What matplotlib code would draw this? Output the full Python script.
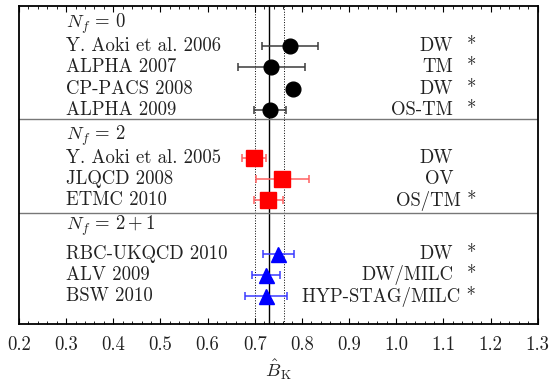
import matplotlib
matplotlib.use('Agg')
import matplotlib.pyplot as plt

# данные
headers = [r'$N_f\,=\,0$', r'$N_f\,=\,2$', r'$N_f\,=\,2+1$']

names_0 = ['Y. Aoki et al. 2006', 'ALPHA 2007', 'CP-PACS 2008', 'ALPHA 2009']
vals_0 = [0.775, 0.735, 0.782, 0.733]
errs_0 = [0.060, 0.071, 0.005, 0.034]
acts_0 = ['DW', 'TM', 'DW', 'OS-TM']
stars_0 = [True, True, True, True]

names_2 = ['Y. Aoki et al. 2005', 'JLQCD 2008', 'ETMC 2010']
vals_2 = [0.698, 0.758, 0.729]
errs_2 = [0.025, 0.056, 0.030]
acts_2 = ['DW', 'OV', 'OS/TM']
stars_2 = [False, False, True]

names_21 = ['RBC-UKQCD 2010', 'ALV 2009', 'BSW 2010']
vals_21 = [0.750, 0.724, 0.724]
errs_21 = [0.033, 0.030, 0.045]
acts_21 = ['DW', 'DW/MILC', 'HYP-STAG/MILC']
stars_21 = [True, True, True]

avg = 0.731
avg_err = 0.030

plt.rcParams['font.family'] = 'serif'
plt.rcParams['font.serif'] = ['cmr10', 'DejaVu Serif']
plt.rcParams['mathtext.fontset'] = 'cm'
plt.rcParams['axes.formatter.use_mathtext'] = True

fig = plt.figure(figsize=(5.51, 3.83), dpi=100)
ax = fig.add_axes([0.0345, 0.154, 0.9413, 0.8303])

# (заголовок, первая строка) для каждой группы, в единицах строк
layout = [(0.85, 1.9), (6.1, 7.15), (10.35, 11.7)]
seps = [5.33, 9.78]
groups = [
    (names_0, vals_0, errs_0, acts_0, stars_0, 'o', 'black', '#3a3a3a', 10.6),
    (names_2, vals_2, errs_2, acts_2, stars_2, 's', '#ff0000', '#ff6060', 11.5),
    (names_21, vals_21, errs_21, acts_21, stars_21, '^', '#0000ff', '#3a3aff', 10.8),
]
tight = {'OS/TM', 'HYP-STAG/MILC'}
fs = 13.5
tc = '#222222'

ax.axvline(avg, color='black', lw=1.0, zorder=1)
ax.axvline(avg - avg_err, color='black', lw=0.7, ls=':', zorder=1)
ax.axvline(avg + avg_err, color='black', lw=0.7, ls=':', zorder=1)
for s in seps:
    ax.axhline(s, color='#777777', lw=1.0)

for (hy, y0), hdr, g in zip(layout, headers, groups):
    names, vals, errs, acts, stars, mk, col, ecol, ms = g
    ax.text(0.3, hy, hdr, fontsize=fs, ha='left', va='center', color=tc)
    ys = [y0 + i for i in range(len(names))]
    ax.errorbar(vals, ys, xerr=errs, fmt=mk, color=col, ecolor=ecol,
                markersize=ms, capsize=3.2, elinewidth=1.1, capthick=1.1, zorder=3)
    for y, n, a, st in zip(ys, names, acts, stars):
        ax.text(0.3, y, n, fontsize=fs, ha='left', va='center', color=tc)
        if a in tight:
            ax.text(1.170, y, a + ' *', fontsize=fs, ha='right', va='center', color=tc)
        else:
            ax.text(1.121, y, a, fontsize=fs, ha='right', va='center', color=tc)
            if st:
                ax.text(1.159, y, '*', fontsize=fs, ha='center', va='center', color=tc)

ax.set_xlim(0.2, 1.3)
ax.set_ylim(15.0, 0)
ax.set_xticks([0.2 + 0.1 * i for i in range(12)])
ax.set_xticklabels(['%.1f' % (0.2 + 0.1 * i) for i in range(12)], fontsize=fs, color=tc)
ax.set_xticks([0.2 + 0.02 * i for i in range(56)], minor=True)
ax.tick_params(axis='x', which='both', direction='in', top=True, bottom=True)
ax.tick_params(axis='x', which='major', length=4, width=0.8, pad=9)
ax.tick_params(axis='x', which='minor', length=2, width=0.6)
ax.set_yticks([])
for sp in ax.spines.values():
    sp.set_linewidth(1.3)
ax.set_xlabel(r'$\hat{B}_{\rm K}$', fontsize=fs, labelpad=2, color=tc)

fig.savefig('out.png', dpi=100)
